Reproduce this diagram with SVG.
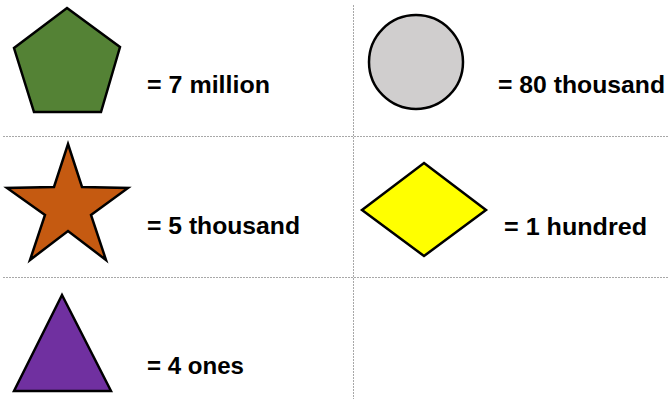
<svg xmlns="http://www.w3.org/2000/svg" width="669" height="399" viewBox="0 0 669 399">
<style>
.shape{stroke:#000;stroke-width:2.5;stroke-linejoin:miter}
.lbl{font-family:"Liberation Sans",Arial,sans-serif;font-weight:bold;font-size:24px;fill:#000}
.grid{stroke:#a8a8a8;stroke-width:1;stroke-dasharray:2 1;fill:none}
</style>
<rect width="669" height="399" fill="#fff"/>
<g id="grid">
<line class="grid" x1="3" y1="136.5" x2="669" y2="136.5"/>
<line class="grid" x1="3" y1="277.5" x2="669" y2="277.5"/>
<line class="grid" x1="353.5" y1="5" x2="353.5" y2="399"/>
</g>
<g id="pentagon">
<polygon class="shape" fill="#548235" points="67,8 120,47 101,112 34,112 14,48"/>
<text class="lbl" x="147" y="93" textLength="123" lengthAdjust="spacingAndGlyphs">= 7 million</text>
</g>
<g id="circle">
<circle class="shape" fill="#d0cece" cx="416" cy="62" r="47"/>
<text class="lbl" x="498" y="93" textLength="167" lengthAdjust="spacingAndGlyphs">= 80 thousand</text>
</g>
<g id="star">
<polygon class="shape" fill="#c55a11" points="68,144 82,187 128,188 91,215 106,260 68,231 30,260 45,215 7,188 54,187"/>
<text class="lbl" x="147" y="234" textLength="153" lengthAdjust="spacingAndGlyphs">= 5 thousand</text>
</g>
<g id="diamond">
<polygon class="shape" fill="#ffff00" points="424,163 486,210 424,256 362,210"/>
<text class="lbl" x="504" y="235" textLength="143" lengthAdjust="spacingAndGlyphs">= 1 hundred</text>
</g>
<g id="triangle">
<polygon class="shape" fill="#7030a0" points="62,295 111,391 14,391"/>
<text class="lbl" x="147" y="374" textLength="97" lengthAdjust="spacingAndGlyphs">= 4 ones</text>
</g>
</svg>
